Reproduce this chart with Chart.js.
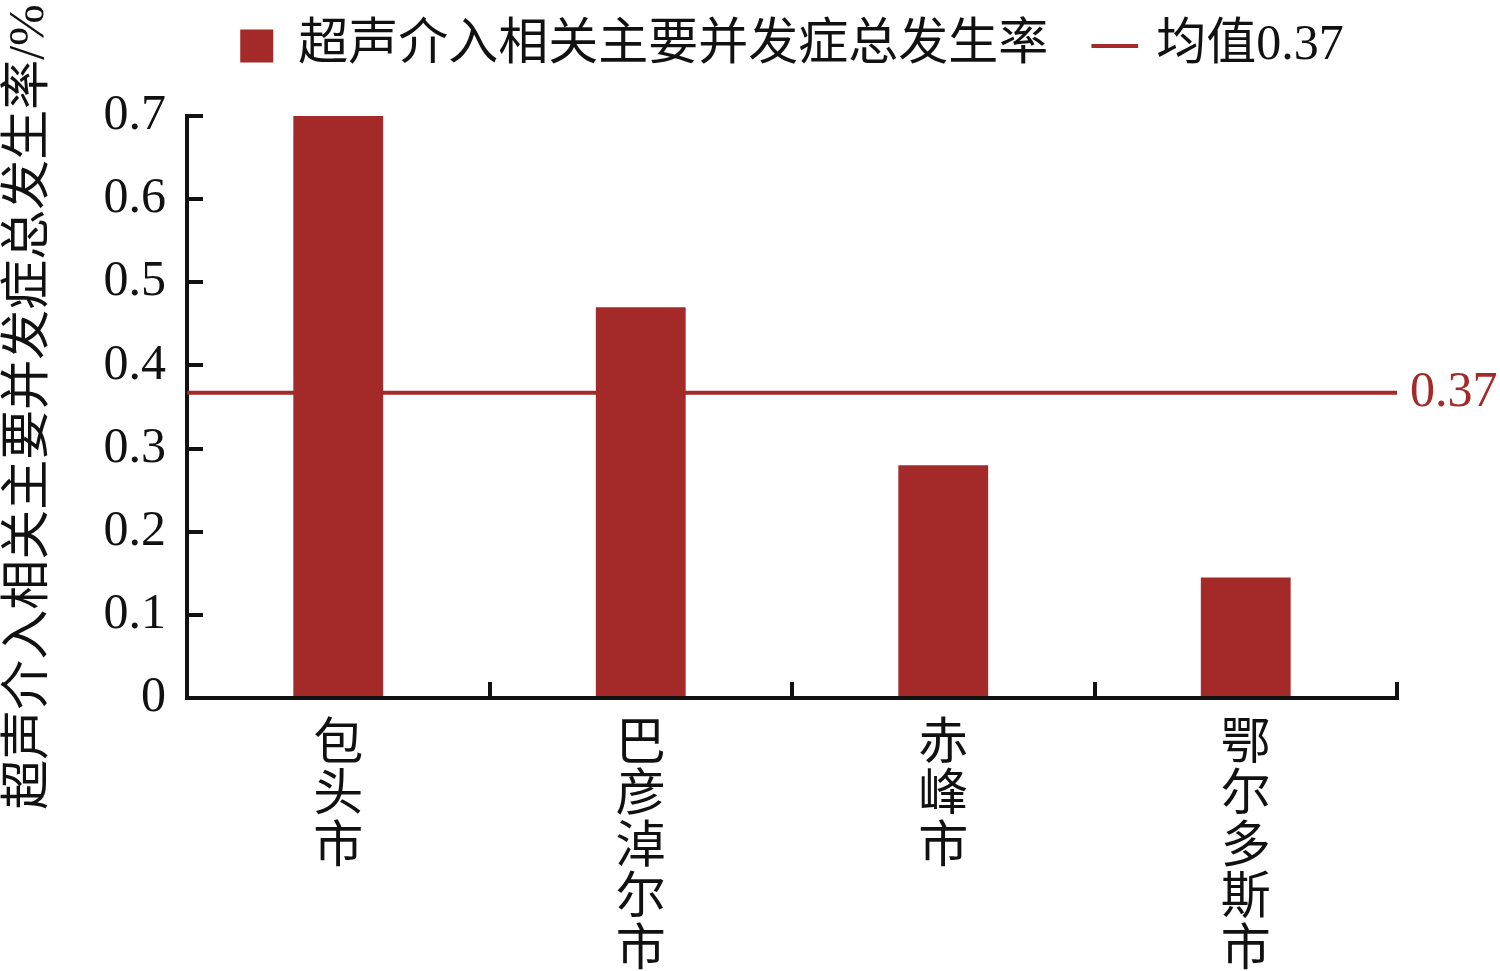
<!DOCTYPE html>
<html>
<head>
<meta charset="utf-8">
<script src="https://cdn.jsdelivr.net/npm/chart.js@4/dist/chart.umd.min.js"></script>
<style>
  html, body { margin: 0; padding: 0; background: #ffffff; }
  #wrap { width: 1500px; height: 971px; }
</style>
</head>
<body>
<div id="wrap"><canvas id="c" width="1500" height="971"></canvas></div>
<script>
// ---- data ----
const categories = ['包头市', '巴彦淖尔市', '赤峰市', '鄂尔多斯市'];
const rateValues = [0.70, 0.47, 0.28, 0.145];
const meanValue = 0.367;
const meanLabel = '0.37';
const seriesName = '超声介入相关主要并发症总发生率';
const meanName = '均值0.37';
const yTitle = '超声介入相关主要并发症总发生率/%';
const yTicks = [0, 0.1, 0.2, 0.3, 0.4, 0.5, 0.6, 0.7];

// ---- style ----
const RED = '#A32A29';
const FONT = '"Liberation Serif", "Noto Sans CJK SC", serif';
const CJK = '"Noto Sans CJK SC", "Liberation Serif", sans-serif';

const meanLabelPlugin = {
  id: 'meanLabel',
  afterDatasetsDraw(chart) {
    const x2 = chart.scales.x2, y = chart.scales.y;
    const ctx = chart.ctx;
    ctx.save();
    ctx.fillStyle = RED;
    ctx.font = '50px ' + FONT;
    ctx.textAlign = 'left';
    ctx.textBaseline = 'middle';
    ctx.fillText(meanLabel, x2.getPixelForValue(1) + 13, y.getPixelForValue(meanValue));
    ctx.restore();
  }
};

new Chart(document.getElementById('c'), {
  data: {
    labels: categories.map(c => c.split('')),
    datasets: [
      {
        type: 'bar',
        label: seriesName,
        data: rateValues,
        backgroundColor: RED,
        borderWidth: 0,
        grouped: false,
        categoryPercentage: 1.0,
        barPercentage: 0.297,
        xAxisID: 'x',
        yAxisID: 'y'
      },
      {
        type: 'line',
        label: meanName,
        data: [{x: 0, y: meanValue}, {x: 1, y: meanValue}],
        borderColor: RED,
        backgroundColor: RED,
        borderWidth: 4,
        pointRadius: 0,
        pointStyle: 'line',
        xAxisID: 'x2',
        yAxisID: 'y'
      }
    ]
  },
  options: {
    responsive: false,
    devicePixelRatio: 1,
    animation: false,
    events: [],
    layout: { padding: { top: -29, right: 103, bottom: 0, left: 0 } },
    plugins: {
      tooltip: { enabled: false },
      legend: {
        display: true,
        position: 'top',
        fullSize: false,
        labels: {
          usePointStyle: true,
          boxWidth: 33,
          boxHeight: 33,
          padding: 50,
          color: '#111111',
          font: { family: FONT, size: 50 },
          generateLabels(chart) {
            const items = Chart.defaults.plugins.legend.labels.generateLabels(chart);
            items.forEach(it => {
              if (it.datasetIndex === 0) {
                it.pointStyle = 'rect';
                it.lineWidth = 0;
                it.fillStyle = RED;
              } else {
                it.pointStyle = 'line';
                it.lineWidth = 4;
                it.strokeStyle = RED;
              }
            });
            return items.sort((a, b) => a.datasetIndex - b.datasetIndex);
          }
        }
      }
    },
    scales: {
      x: {
        type: 'category',
        position: 'bottom',
        offset: true,
        afterFit(s) { s.height = 273; },
        grid: {
          display: true,
          offset: true,
          drawOnChartArea: false,
          drawTicks: true,
          tickLength: -16,
          lineWidth: 4,
          color: '#111111'
        },
        border: { display: true, width: 4, color: '#111111' },
        ticks: {
          autoSkip: false,
          maxRotation: 0,
          minRotation: 0,
          padding: 32,
          color: '#111111',
          font: { family: CJK, size: 50, lineHeight: 1.03 }
        }
      },
      x2: {
        type: 'linear',
        position: 'top',
        min: 0,
        max: 1,
        display: true,
        afterFit(s) { s.height = 35; },
        grid: { display: false, drawTicks: false },
        border: { display: false },
        ticks: { display: false }
      },
      y: {
        type: 'linear',
        position: 'left',
        min: 0,
        max: 0.7,
        afterFit(s) { s.width = 187; },
        afterBuildTicks(s) { s.ticks = yTicks.map(v => ({ value: v })); },
        grid: {
          display: true,
          drawOnChartArea: false,
          drawTicks: true,
          tickLength: -16,
          lineWidth: 4,
          color: '#111111'
        },
        border: { display: true, width: 4, color: '#111111' },
        ticks: {
          padding: 37,
          color: '#111111',
          font: { family: FONT, size: 50 },
          callback: v => String(Number(Number(v).toFixed(2)))
        },
        title: {
          display: true,
          text: yTitle,
          color: '#111111',
          padding: 0,
          font: { family: FONT, size: 50, lineHeight: 1.2 }
        }
      }
    }
  },
  plugins: [meanLabelPlugin]
});
</script>
</body>
</html>
